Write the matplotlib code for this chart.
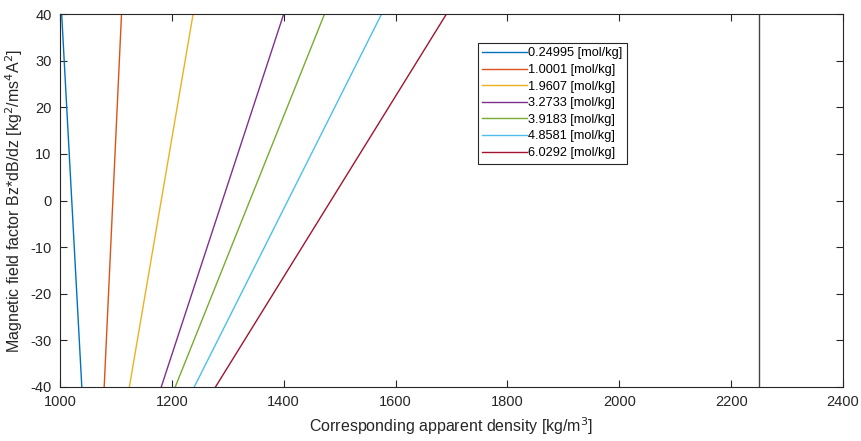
import numpy as np
import matplotlib
matplotlib.use("Agg")
import matplotlib.pyplot as plt

plt.rcParams['font.family'] = ['Liberation Sans', 'DejaVu Sans']
plt.rcParams['axes.unicode_minus'] = False

# field factor range (y) and matching apparent density at each end (x)
field = [-40, 40]
labels = ['0.24995 [mol/kg]', '1.0001 [mol/kg]', '1.9607 [mol/kg]',
          '3.2733 [mol/kg]', '3.9183 [mol/kg]', '4.8581 [mol/kg]',
          '6.0292 [mol/kg]']
rho_low = [1039, 1079, 1124, 1181, 1206, 1240, 1278]
rho_high = [1003, 1110, 1238, 1400, 1473, 1575, 1691]
rho_limit = 2250

colors = ['#0072BD', '#D95319', '#EDB120', '#7E2F8E',
          '#77AC30', '#4DBEEE', '#A2142F']

fig = plt.figure(figsize=(8.61, 4.41), dpi=100)
ax = fig.add_axes([60/861, 1 - 387/441, 783/861, 373/441])

for lo, hi, lab, c in zip(rho_low, rho_high, labels, colors):
    ax.plot([lo, hi], field, color=c, lw=1.0, label=lab)

ax.axvline(rho_limit, color='#444444', lw=1.0)

ax.set_xlim(1000, 2400)
ax.set_ylim(-40, 40)
ax.set_xticks(np.arange(1000, 2401, 200))
ax.set_yticks(np.arange(-40, 41, 10))
ax.tick_params(direction='in', top=True, right=True, length=5,
               labelsize=10.5, colors='#262626', pad=6)
for s in ax.spines.values():
    s.set_color('#262626')
    s.set_linewidth(0.8)

ax.set_xlabel('Corresponding apparent density [kg/m$^3$]', fontsize=11.5,
              color='#262626')
ax.set_ylabel('Magnetic field factor Bz*dB/dz [kg$^2$/ms$^4$A$^2$]',
              fontsize=11.5, color='#262626')

leg = ax.legend(loc='upper left', bbox_to_anchor=(478/861, 1 - 43/441),
                bbox_transform=fig.transFigure, fontsize=9.2,
                handlelength=3.5, handletextpad=0.05, labelspacing=0.36,
                borderpad=0.35, borderaxespad=0, fancybox=False,
                framealpha=1)
leg.get_frame().set_edgecolor('#262626')
leg.get_frame().set_linewidth(0.8)

fig.savefig('out.png', dpi=100)
